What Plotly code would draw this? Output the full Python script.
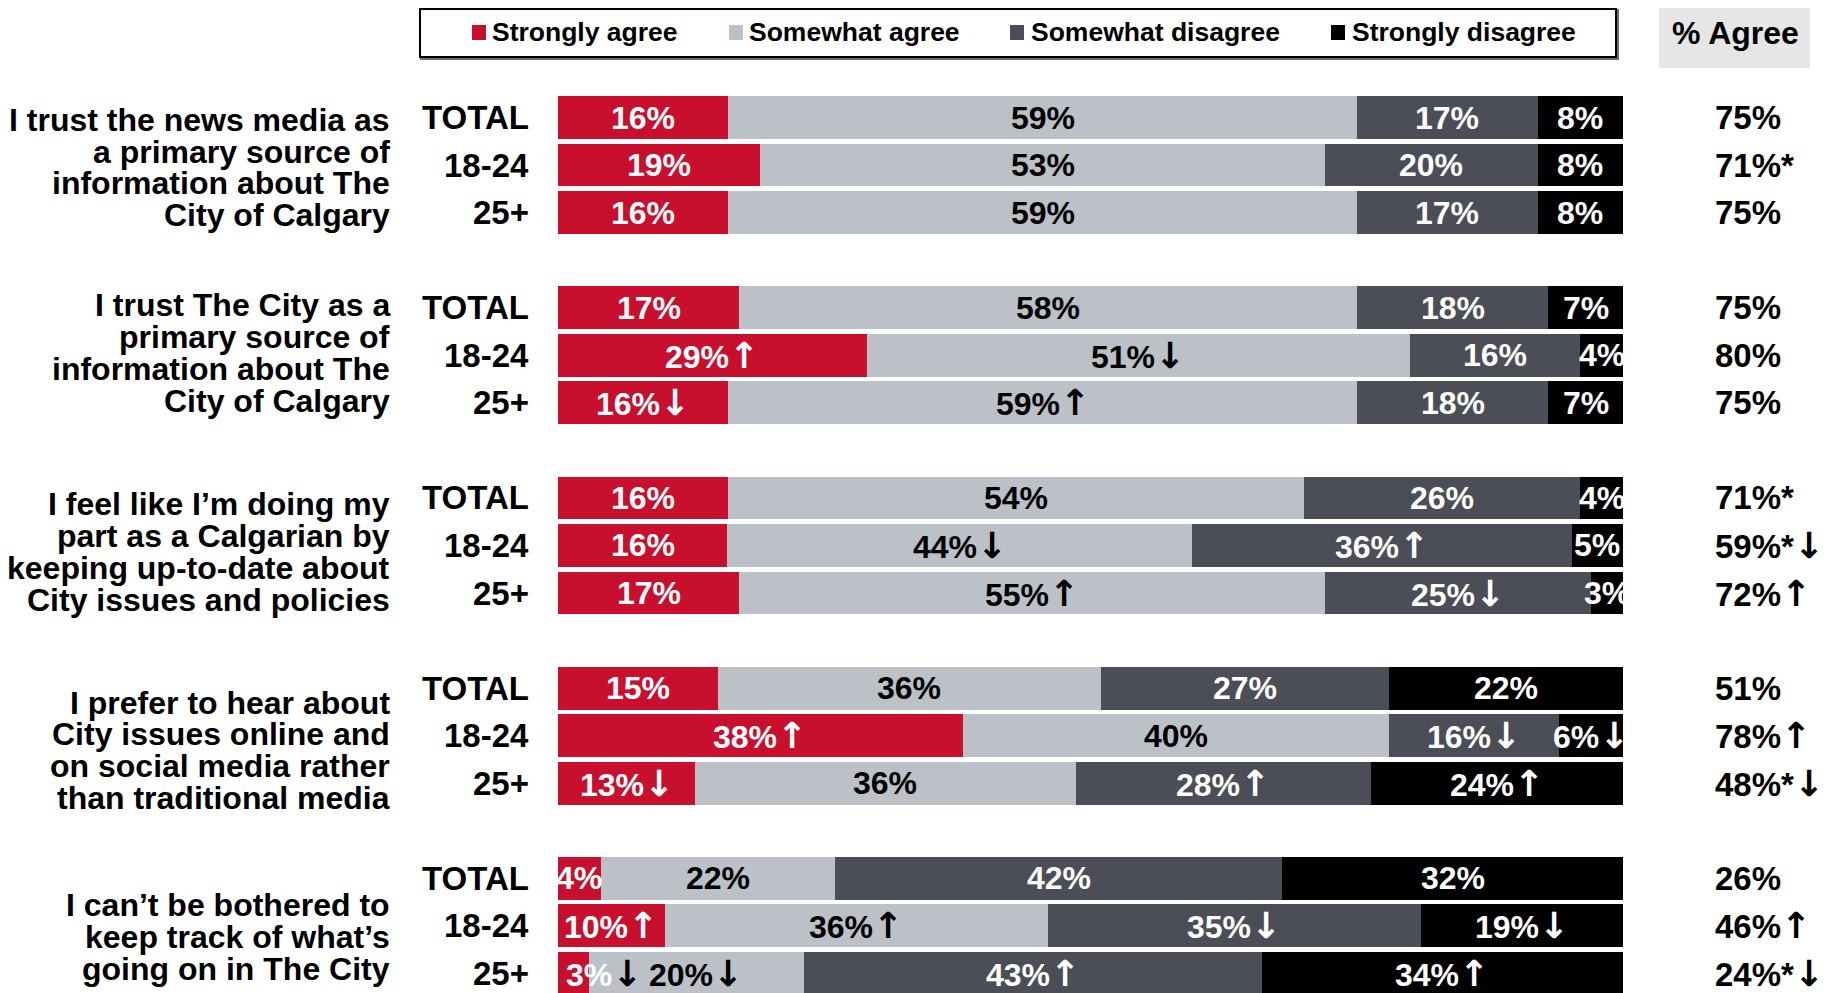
import plotly.graph_objects as go

# ---------------- data ----------------
series_names = ["Strongly agree", "Somewhat agree", "Somewhat disagree", "Strongly disagree"]
colors = ["#C8102E", "#BBC1C6", "#4B4E56", "#000000"]
text_colors = ["white", "black", "white", "white"]

questions = [
    ["I trust the news media as", "a primary source of", "information about The", "City of Calgary"],
    ["I trust The City as a", "primary source of", "information about The", "City of Calgary"],
    ["I feel like I\u2019m doing my", "part as a Calgarian by", "keeping up-to-date about", "City issues and policies"],
    ["I prefer to hear about", "City issues online and", "on social media rather", "than traditional media"],
    ["I can\u2019t be bothered to", "keep track of what\u2019s", "going on in The City"],
]
segments = ["TOTAL", "18-24", "25+"]

strongly_agree = [16, 19, 16, 17, 29, 16, 16, 15.9, 17, 15, 38, 12.9, 4, 10, 2.9]
somewhat_agree = [59, 53, 59, 58, 51, 59, 54, 43.6, 55, 36, 40, 35.7, 22, 36, 20.2]
somewhat_disagree = [17, 20, 17, 18, 16, 18, 26, 35.7, 25, 27, 16, 27.7, 42, 35, 43]
strongly_disagree = [8, 8, 8, 7, 4, 7, 4, 4.8, 3, 22, 6, 23.7, 32, 19, 33.9]

strongly_agree_lbl = ["16%", "19%", "16%", "17%", "29%\u2191", "16%\u2193", "16%", "16%", "17%",
                      "15%", "38%\u2191", "13%\u2193", "4%", "10%\u2191", "3%\u2193"]
somewhat_agree_lbl = ["59%", "53%", "59%", "58%", "51%\u2193", "59%\u2191", "54%", "44%\u2193", "55%\u2191",
                      "36%", "40%", "36%", "22%", "36%\u2191", "20%\u2193"]
somewhat_disagree_lbl = ["17%", "20%", "17%", "18%", "16%", "18%", "26%", "36%\u2191", "25%\u2193",
                         "27%", "16%\u2193", "28%\u2191", "42%", "35%\u2193", "43%\u2191"]
strongly_disagree_lbl = ["8%", "8%", "8%", "7%", "4%", "7%", "4%", "5%", "3%",
                         "22%", "6%\u2193", "24%\u2191", "32%", "19%\u2193", "34%\u2191"]
agree_lbl = ["75%", "71%*", "75%", "75%", "80%", "75%", "71%*", "59%*\u2193", "72%\u2191",
             "51%", "78%\u2191", "48%*\u2193", "26%", "46%\u2191", "24%*\u2193"]
# arrow drawn in black on the light-grey neighbour (series index, row index)
arrow_color_override = {(0, 14): "black"}

# ---------------- layout geometry (reference pixel frame) ----------------
OFF = 8                      # page body margin
W, H = 1831 - OFF, 993 - OFF  # figure size
X0PX, X100PX = 558, 1623
px_per = (X100PX - X0PX) / 100.0
R0PX, RPITCH = 117.5, 47.55
FONT = "Liberation Sans, Arial, sans-serif"
FS = 32

def pxx(x):
    return (x - OFF) / W

def pxy(y):
    return 1 - (y - OFF) / H

def arrowize(txt, size, color=None):
    style = "font-family:'DejaVu Sans';font-weight:bold;font-size:%dpx;" % size
    if color:
        style += "color:%s;" % color
    for a in ("\u2191", "\u2193"):
        txt = txt.replace(a, '<span style="%s">%s</span>' % (style, a))
    return txt

values = [strongly_agree, somewhat_agree, somewhat_disagree, strongly_disagree]
labels = [strongly_agree_lbl, somewhat_agree_lbl, somewhat_disagree_lbl, strongly_disagree_lbl]

n_groups = len(questions)
rows = [g * 4 + k for g in range(n_groups) for k in range(len(segments))]

fig = go.Figure()
for name, vals, col in zip(series_names, values, colors):
    fig.add_trace(go.Bar(
        y=rows, x=vals, name=name, orientation="h", width=0.9,
        marker=dict(color=col, line=dict(width=0)), showlegend=False,
        hoverinfo="x+name",
    ))

ann = []
for i, r in enumerate(rows):
    start = 0.0
    for s in range(4):
        v = values[s][i]
        raw = labels[s][i]
        txt = arrowize(raw, 36, arrow_color_override.get((s, i)))
        center = start + v / 2
        est_w = len(raw) * 0.56 * FS / px_per
        f = dict(family=FONT, size=FS, color=text_colors[s], weight=700)
        if s == 0 and est_w / 2 > center:
            ann.append(dict(x=0.6, y=r, xref="x", yref="y", text=txt, showarrow=False,
                            xanchor="left", yanchor="middle", font=f))
        else:
            ann.append(dict(x=center, y=r, xref="x", yref="y", text=txt, showarrow=False,
                            xanchor="center", yanchor="middle", font=f))
        start += v
    ann.append(dict(x=pxx(1713), y=r, xref="paper", yref="y", text=arrowize(agree_lbl[i], 36),
                    showarrow=False, xanchor="left", yanchor="middle",
                    font=dict(family=FONT, size=33, color="black", weight=700)))
    ann.append(dict(x=pxx(531), y=r, xref="paper", yref="y", text=segments[i % 3], showarrow=False,
                    xanchor="right", yanchor="middle",
                    font=dict(family=FONT, size=33, color="black", weight=700)))

# question labels (one annotation per line for tight line spacing)
q_offsets = [0.05, -0.045, 0.135, 0.31, 0.24]
LINE = 0.67
for g, lines in enumerate(questions):
    mid = g * 4 + 1 + q_offsets[g]
    n = len(lines)
    for j, line in enumerate(lines):
        ann.append(dict(x=pxx(392), y=mid + (j - (n - 1) / 2) * LINE, xref="paper", yref="y",
                        text=line, showarrow=False, xanchor="right", yanchor="middle",
                        font=dict(family=FONT, size=32, color="black", weight=700)))

# legend (custom) and header
shapes = [
    dict(type="rect", xref="paper", yref="paper", x0=pxx(421), x1=pxx(1618), y0=pxy(59), y1=pxy(10),
         line=dict(color="#6E6E6E", width=2), fillcolor="#6E6E6E", layer="below"),
    dict(type="rect", xref="paper", yref="paper", x0=pxx(420), x1=pxx(1616), y0=pxy(57), y1=pxy(9),
         line=dict(color="black", width=2), fillcolor="white", layer="below"),
    dict(type="rect", xref="paper", yref="paper", x0=pxx(1659), x1=pxx(1810), y0=pxy(68), y1=pxy(2),
         line=dict(width=0), fillcolor="#E6E6E6", layer="below"),
]
leg_sq_x = [472, 729, 1010, 1331]
leg_tx_x = [490, 747, 1029, 1350]
for name, col, sx, tx in zip(series_names, colors, leg_sq_x, leg_tx_x):
    shapes.append(dict(type="rect", xref="paper", yref="paper", x0=pxx(sx), x1=pxx(sx + 14),
                       y0=pxy(40), y1=pxy(25), line=dict(width=0), fillcolor=col))
    ann.append(dict(x=pxx(tx), y=pxy(32), xref="paper", yref="paper", text=name, showarrow=False,
                    xanchor="left", yanchor="middle",
                    font=dict(family=FONT, size=26.5, color="black", weight=700)))
ann.append(dict(x=pxx(1735), y=pxy(33), xref="paper", yref="paper", text="% Agree", showarrow=False,
                xanchor="center", yanchor="middle",
                font=dict(family=FONT, size=32, color="black", weight=700)))

fig.update_layout(
    width=W, height=H, autosize=False,
    margin=dict(l=0, r=0, t=0, b=0, pad=0),
    barmode="stack",
    plot_bgcolor="white", paper_bgcolor="white",
    annotations=ann, shapes=shapes,
    xaxis=dict(range=[(OFF - X0PX) / px_per, (1831 - X0PX) / px_per], visible=False, fixedrange=True),
    yaxis=dict(range=[(993 - R0PX) / RPITCH, (OFF - R0PX) / RPITCH], visible=False, fixedrange=True),
)

fig.write_html("out.html", config={"displayModeBar": False})
